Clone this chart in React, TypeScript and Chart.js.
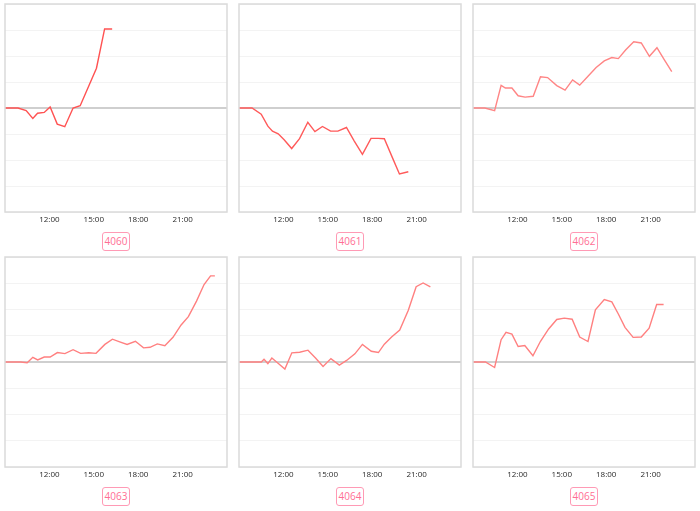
import React, { useEffect, useRef } from "react";
import { Chart, registerables } from "chart.js";

Chart.register(...registerables);

// ---- data (hour of day, value) ----
const panelNames = ["4060", "4061", "4062", "4063", "4064", "4065"];

const times4060 = [9.0, 9.88, 10.43, 10.88, 11.2, 11.65, 12.05, 12.53, 13.04, 13.6, 14.08, 15.18, 15.73, 16.24];
const values4060 = [0, 0, -0.1, -0.4, -0.2, -0.17, 0.04, -0.62, -0.72, 0.0, 0.09, 1.53, 3.04, 3.04];

const times4061 = [9.0, 9.88, 10.5, 10.95, 11.26, 11.65, 12.05, 12.56, 13.09, 13.65, 14.13, 14.64, 15.19, 15.68, 16.26, 16.79, 17.34, 17.92, 18.4, 18.82, 19.35, 19.84, 20.44];
const values4061 = [0, 0, -0.24, -0.7, -0.89, -0.99, -1.22, -1.56, -1.18, -0.55, -0.91, -0.71, -0.89, -0.89, -0.75, -1.27, -1.78, -1.17, -1.17, -1.18, -1.89, -2.54, -2.45];

const times4062 = [9.0, 9.8, 10.46, 10.9, 11.19, 11.63, 12.05, 12.52, 13.07, 13.56, 14.04, 14.66, 15.22, 15.73, 16.21, 16.77, 17.32, 17.87, 18.38, 18.82, 19.31, 19.86, 20.37, 20.92, 21.43, 21.92, 22.43];
const values4062 = [0, 0, -0.1, 0.87, 0.77, 0.77, 0.47, 0.42, 0.45, 1.2, 1.17, 0.86, 0.69, 1.08, 0.88, 1.22, 1.56, 1.81, 1.94, 1.9, 2.23, 2.55, 2.5, 1.99, 2.32, 1.86, 1.4];

const times4063 = [9.0, 10.06, 10.5, 10.88, 11.21, 11.65, 12.05, 12.54, 13.05, 13.6, 14.11, 14.66, 15.15, 15.75, 16.26, 16.75, 17.25, 17.81, 18.36, 18.8, 19.29, 19.8, 20.35, 20.9, 21.39, 21.94, 22.45, 22.89, 23.18];
const values4063 = [0, 0, -0.03, 0.18, 0.08, 0.19, 0.19, 0.36, 0.32, 0.47, 0.33, 0.35, 0.33, 0.67, 0.87, 0.77, 0.67, 0.79, 0.54, 0.56, 0.69, 0.62, 0.94, 1.41, 1.73, 2.32, 2.95, 3.28, 3.28];

const times4064 = [9.0, 10.51, 10.69, 10.95, 11.22, 11.66, 12.1, 12.57, 13.1, 13.66, 14.17, 14.68, 15.21, 15.78, 16.27, 16.83, 17.34, 17.94, 18.42, 18.82, 19.31, 19.86, 20.44, 20.97, 21.44, 21.93];
const values4064 = [0, 0, 0.1, -0.06, 0.15, -0.06, -0.27, 0.35, 0.37, 0.45, 0.15, -0.17, 0.13, -0.12, 0.06, 0.31, 0.67, 0.41, 0.36, 0.68, 0.95, 1.22, 1.97, 2.87, 3.01, 2.86];

const times4065 = [9.0, 9.84, 10.46, 10.9, 11.23, 11.63, 12.05, 12.5, 13.05, 13.56, 14.11, 14.66, 15.17, 15.7, 16.21, 16.77, 17.27, 17.87, 18.38, 18.82, 19.27, 19.82, 20.37, 20.9, 21.41, 21.88];
const values4065 = [0, 0, -0.21, 0.85, 1.13, 1.06, 0.59, 0.63, 0.24, 0.79, 1.26, 1.62, 1.67, 1.63, 0.95, 0.78, 1.99, 2.38, 2.29, 1.83, 1.32, 0.94, 0.95, 1.29, 2.19, 2.19];

const panelTimes = [times4060, times4061, times4062, times4063, times4064, times4065];
const panelValues = [values4060, values4061, values4062, values4063, values4064, values4065];

const xTickHours = [9, 12, 15, 18, 21, 24];
const yMin = -4;
const yMax = 4;

// ---- layout ----
const colLefts = [3, 237, 471];
const boxW = 226;
const rowTops = [4, 257];
const rowHeights = [208, 210];
const labelTops = [232, 487];
const axisH = 18;
const lineColors = ["#ff5252", "#ff5a5a", "#ff8585", "#ff8080", "#ff8080", "#ff8080"];

Chart.defaults.font.family = "'Open Sans', 'DejaVu Sans', sans-serif";

const boxPlugin = {
  id: "boxBorder",
  afterDraw(chart: any) {
    const { ctx, chartArea } = chart;
    ctx.save();
    ctx.strokeStyle = "#dadada";
    ctx.lineWidth = 1.5;
    ctx.strokeRect(chartArea.left, chartArea.top, chartArea.right - chartArea.left, chartArea.bottom - chartArea.top);
    ctx.restore();
  },
};

function Panel({ idx }: { idx: number }) {
  const ref = useRef<HTMLCanvasElement | null>(null);
  const col = idx % 3;
  const row = Math.floor(idx / 3);
  const h = rowHeights[row];
  const cw = boxW + 2;
  const ch = h + 1 + axisH;

  useEffect(() => {
    if (!ref.current) return;
    const data = panelTimes[idx].map((t, i) => ({ x: t, y: panelValues[idx][i] }));
    const chart = new Chart(ref.current, {
      type: "line",
      data: {
        datasets: [
          {
            data,
            borderColor: lineColors[idx],
            borderWidth: 1.4,
            pointRadius: 0,
            tension: 0,
            fill: false,
          },
        ],
      },
      options: {
        animation: false,
        responsive: false,
        maintainAspectRatio: false,
        layout: { padding: { top: 1, left: 1, right: 1, bottom: 0 } },
        plugins: { legend: { display: false }, tooltip: { enabled: false }, title: { display: false } },
        scales: {
          x: {
            type: "linear",
            min: xTickHours[0],
            max: xTickHours[xTickHours.length - 1],
            afterBuildTicks: (scale: any) => {
              scale.ticks = xTickHours.map((v) => ({ value: v }));
            },
            ticks: {
              autoSkip: false,
              maxRotation: 0,
              padding: 3,
              color: "#2a2a2a",
              font: { size: 8 },
              callback: (v: any) => {
                const n = Number(v);
                if (n === xTickHours[0] || n === xTickHours[xTickHours.length - 1]) return "";
                return `${n}:00`;
              },
            },
            grid: { display: false, drawTicks: false },
            border: { display: false },
            afterFit: (scale: any) => {
              scale.height = axisH;
            },
          },
          y: {
            min: yMin,
            max: yMax,
            ticks: { display: false, stepSize: 1 },
            grid: {
              drawTicks: false,
              color: (c: any) => (c.tick && c.tick.value === 0 ? "#cfcfcf" : "#f3f3f3"),
              lineWidth: (c: any) => (c.tick && c.tick.value === 0 ? 2 : 1),
            },
            border: { display: false },
            afterFit: (scale: any) => {
              scale.width = 0;
            },
          },
        },
      },
      plugins: [boxPlugin],
    });
    return () => chart.destroy();
  }, [idx]);

  return (
    <>
      <div
        style={{
          position: "absolute",
          left: colLefts[col] - 1,
          top: rowTops[row] - 1,
          width: cw,
          height: ch,
        }}
      >
        <canvas ref={ref} width={cw} height={ch} style={{ width: cw, height: ch, display: "block" }} />
      </div>
      <div
        style={{
          position: "absolute",
          left: colLefts[col] + boxW / 2 - 14,
          top: labelTops[row],
          width: 28,
          height: 19,
          boxSizing: "border-box",
          border: "1px solid #ff9ab5",
          borderRadius: 3,
          color: "#ff6e94",
          fontFamily: "'Open Sans', sans-serif",
          fontSize: 10,
          lineHeight: "17px",
          textAlign: "center",
        }}
      >
        {panelNames[idx]}
      </div>
    </>
  );
}

export default function App() {
  return (
    <div style={{ position: "absolute", left: 0, top: 0, width: 700, height: 511, background: "#fff", overflow: "hidden" }}>
      {panelNames.map((_, i) => (
        <Panel key={i} idx={i} />
      ))}
    </div>
  );
}
